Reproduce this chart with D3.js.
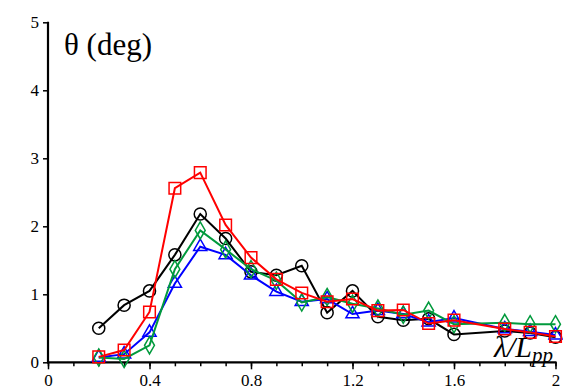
<!DOCTYPE html>
<html><head><meta charset="utf-8">
<script src="https://cdn.jsdelivr.net/npm/d3@7"></script>
<style>body{margin:0;background:#fff}svg{display:block}
text{font-family:"Liberation Serif","DejaVu Serif","Times New Roman",Times,serif;}</style>
</head><body>
<svg id="c" width="563" height="387"></svg>
<script>
const xValues = [0.2,0.3,0.4,0.5,0.6,0.7,0.8,0.9,1.0,1.1,1.2,1.3,1.4,1.5,1.6,1.8,1.9,2.0];
const blackCircle = [0.50,0.84,1.05,1.58,2.18,1.82,1.33,1.28,1.42,0.73,1.05,0.67,0.62,0.64,0.41,0.46,0.43,0.37];
const blueTriangle = [0.07,0.12,0.44,1.16,1.70,1.58,1.28,1.04,0.89,0.93,0.71,0.76,0.71,0.59,0.65,0.49,0.45,0.40];
const greenDiamond = [0.07,0.05,0.25,1.37,1.94,1.66,1.37,1.20,0.88,0.96,0.86,0.79,0.70,0.76,0.56,0.58,0.56,0.56];
const redSquare = [0.08,0.18,0.74,2.56,2.79,2.02,1.54,1.22,1.02,0.89,0.93,0.76,0.77,0.57,0.62,0.49,0.44,0.38];
const xTicks = [0,0.4,0.8,1.2,1.6,2];
const xMinorTicks = d3.range(0,2.0001,0.1);
const yTicks = [0,1,2,3,4,5];

const svg = d3.select("#c");
const x = d3.scaleLinear().domain([0,2]).range([48,555.5]);
const y = d3.scaleLinear().domain([0,5]).range([362.3,22.3]);
const font = '"Liberation Serif","DejaVu Serif","Times New Roman",Times,serif';
const styleText = sel => sel.style("font-family",font).attr("font-size",17).attr("fill","#000");

// axes
const xAxisMinor = d3.axisBottom(x).tickValues(xMinorTicks).tickSize(4).tickFormat("");
svg.append("g").attr("transform","translate(0,362.3)").call(xAxisMinor)
  .call(g=>{g.select(".domain").remove();g.selectAll("line").attr("stroke","#000").attr("stroke-width",1.5);});
const xAxis = d3.axisBottom(x).tickValues(xTicks).tickSize(7).tickPadding(5).tickFormat(d3.format(""));
svg.append("g").attr("transform","translate(0,362.3)").call(xAxis)
  .call(g=>{g.select(".domain").remove();g.selectAll("line").attr("stroke","#000").attr("stroke-width",1.5);
    g.attr("font-family",null); styleText(g.selectAll("text"));});
const yAxis = d3.axisLeft(y).tickValues(yTicks).tickSize(5).tickPadding(4).tickFormat(d3.format("d"));
svg.append("g").attr("transform","translate(48,0)").call(yAxis)
  .call(g=>{g.select(".domain").remove();g.selectAll("line").attr("stroke","#000").attr("stroke-width",1.5);
    g.attr("font-family",null); styleText(g.selectAll("text"));});
svg.append("line").attr("x1",x(0)).attr("x2",x(0)).attr("y1",y(5)-0.5).attr("y2",y(0)+1).attr("stroke","#000").attr("stroke-width",2.2);
svg.append("line").attr("x1",x(0)-1).attr("x2",x(2)+1).attr("y1",y(0)).attr("y2",y(0)).attr("stroke","#000").attr("stroke-width",2.2);

const series = [
  {vals: blackCircle, color:"#000000", sym:d3.symbolCircle, size:115},
  {vals: blueTriangle, color:"#0000ff", sym:d3.symbolTriangle, size:75},
  {vals: greenDiamond, color:"#009a3c", sym:d3.symbolDiamond, size:85},
  {vals: redSquare, color:"#ff0000", sym:d3.symbolSquare, size:135}
];
const line = d3.line().x(d=>x(d[0])).y(d=>y(d[1]));
series.forEach(s=>{
  const pts = xValues.map((v,i)=>[v,s.vals[i]]);
  const g = svg.append("g");
  g.append("path").attr("d",line(pts)).attr("fill","none").attr("stroke",s.color).attr("stroke-width",2);
  g.selectAll("path.m").data(pts).enter().append("path").attr("class","m")
    .attr("d",d3.symbol().type(s.sym).size(s.size))
    .attr("transform",d=>`translate(${x(d[0])},${y(d[1])})`)
    .attr("fill","none").attr("stroke",s.color).attr("stroke-width",1.5);
});

// title
svg.append("text").attr("x",64).attr("y",55).style("font-family",font).attr("font-size",31).attr("fill","#000").text("θ (deg)");
// x label
const lab = svg.append("text").attr("x",553).attr("y",357).attr("text-anchor","end").style("font-family",font).attr("font-style","italic").attr("font-size",30).attr("fill","#000");
lab.append("tspan").text("λ/L");
lab.append("tspan").attr("font-size",21).attr("dy",5).text("pp");
</script>
</body></html>
